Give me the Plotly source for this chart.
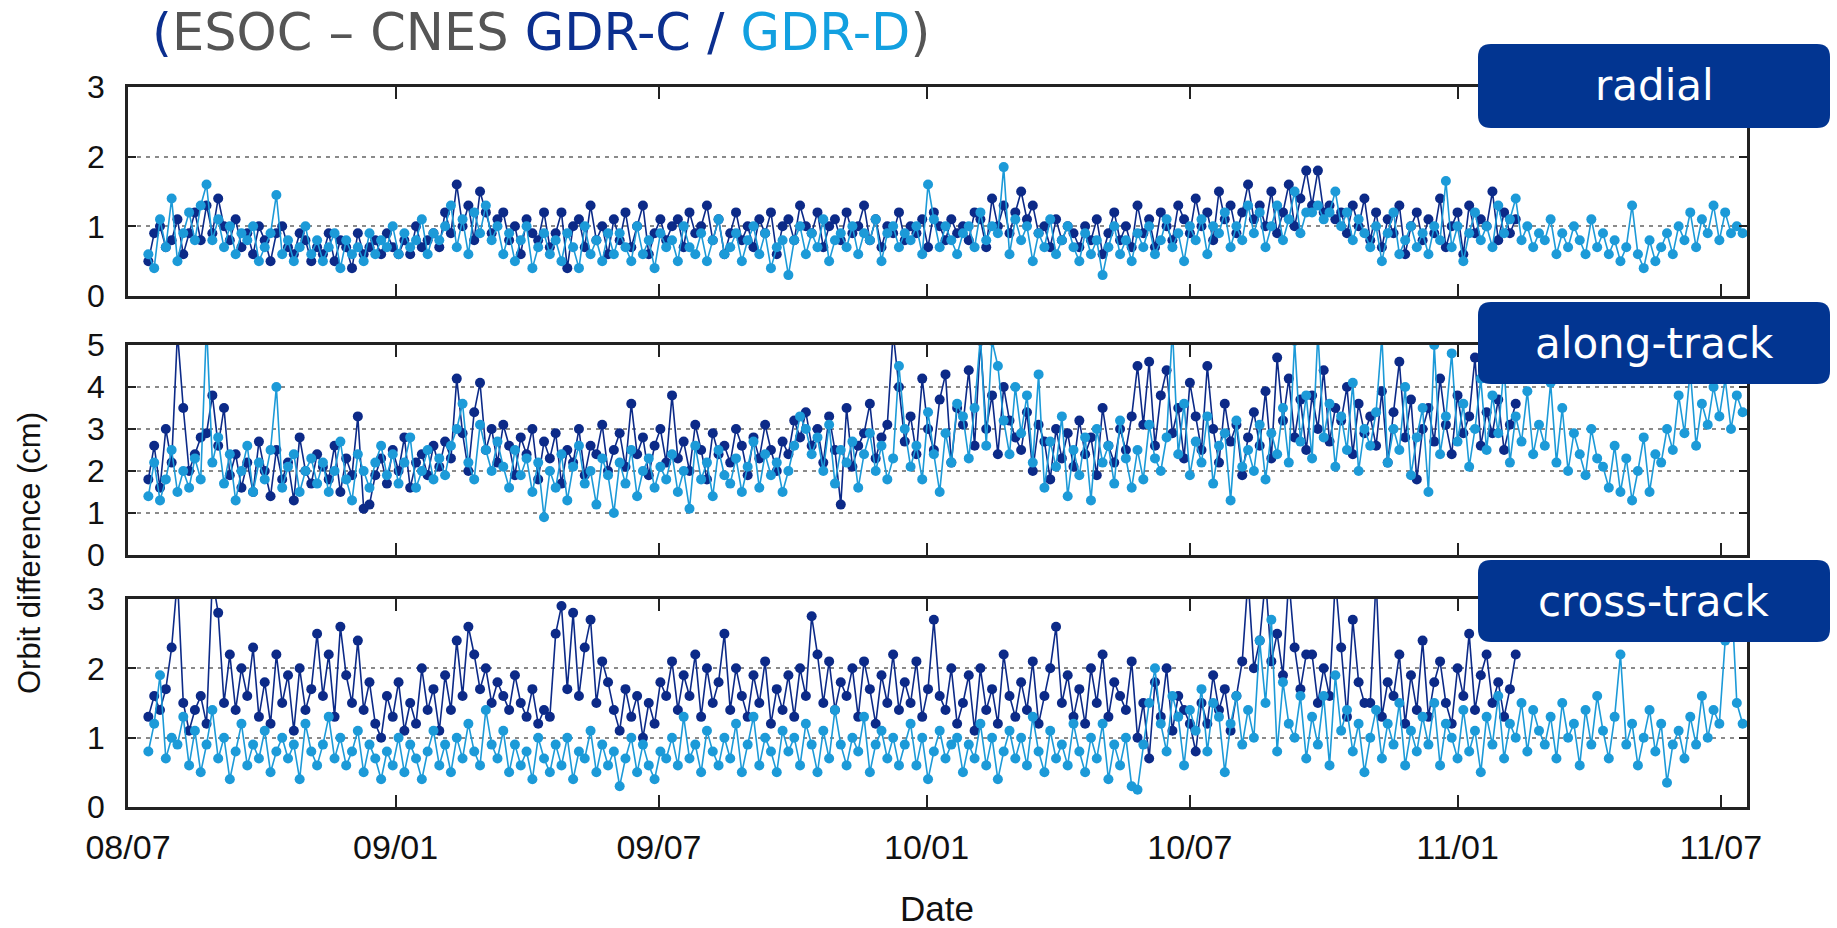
import numpy as np
import pandas as pd
import plotly.graph_objects as go

# ---------------- data (cm), one value every 4 days starting 2008-07-15 ----------------
start_date = "2008-07-15"
step_days = 4

radial_c = [
    0.5,0.9,1.0,0.7,0.8,1.1,0.6,0.9,1.2,0.8,
    1.3,0.9,1.4,1.0,0.8,1.1,0.7,0.9,0.6,1.0,
    0.8,0.5,0.9,1.0,0.7,0.6,0.9,0.8,0.5,0.7,
    0.6,0.9,0.5,0.8,0.7,0.4,0.9,0.6,0.7,0.8,
    0.6,0.9,0.7,0.6,0.8,0.6,1.0,0.7,0.8,0.9,
    0.7,1.2,0.9,1.6,1.0,1.3,0.8,1.5,1.2,0.9,
    1.1,1.2,0.8,1.0,0.6,1.1,0.9,0.8,1.2,0.7,
    0.9,1.2,0.4,1.0,1.1,0.7,1.3,0.8,1.0,0.6,
    1.1,0.8,1.2,0.7,1.0,1.3,0.6,0.9,1.1,0.8,
    1.0,1.1,0.7,1.2,0.9,1.0,1.3,0.8,1.1,0.6,
    0.9,1.2,0.8,1.0,0.7,1.1,0.9,1.2,0.6,1.0,
    1.1,0.8,1.3,1.0,0.9,1.2,0.7,1.0,1.1,0.8,
    1.2,0.9,1.0,1.3,0.8,1.1,0.7,1.0,0.9,1.2,
    0.8,1.0,0.9,1.1,0.7,1.2,1.0,0.8,1.1,0.9,
    1.0,0.8,1.2,1.1,0.7,1.4,1.0,1.3,0.9,1.2,
    1.5,1.1,1.3,0.9,1.0,0.7,1.1,0.8,1.0,0.9,
    0.7,1.0,0.8,1.1,0.6,0.9,1.2,0.8,1.0,0.7,
    1.3,0.9,1.1,0.7,1.2,1.0,0.8,1.3,1.1,0.9,
    1.4,1.0,1.2,0.8,1.5,1.1,1.3,0.9,1.2,1.6,
    1.1,1.3,1.0,1.5,0.9,1.2,1.6,1.0,1.4,1.8,
    1.3,1.8,1.2,1.3,1.1,1.2,0.9,1.3,1.0,1.4,
    0.8,1.2,0.7,1.1,0.9,1.3,0.6,1.0,1.2,0.8,
    1.1,0.9,1.4,0.7,1.0,1.2,0.6,1.3,0.9,1.1,
    1.0,1.5,0.8,1.2,0.9,1.1,
]

radial_d = [
    0.6,0.4,1.1,0.7,1.4,0.5,0.9,1.2,0.8,1.3,
    1.6,0.8,1.1,0.7,1.0,0.6,0.9,0.8,1.0,0.5,
    0.7,0.9,1.45,0.6,0.8,0.5,0.7,1.0,0.6,0.8,
    0.5,0.7,0.9,0.4,0.8,0.6,0.7,0.5,0.9,0.6,
    0.8,0.7,1.0,0.6,0.9,0.7,0.8,1.1,0.6,0.9,
    0.8,1.0,1.3,0.7,1.1,0.6,1.2,0.9,1.3,0.8,
    1.0,0.6,0.9,0.5,0.8,1.0,0.4,0.7,0.9,0.6,
    0.8,0.5,0.9,0.7,0.4,1.0,0.6,0.8,0.5,0.9,
    0.6,0.9,0.7,0.5,1.0,0.6,0.8,0.4,0.9,0.7,
    0.8,0.5,1.0,0.7,0.6,0.9,0.5,0.8,1.1,0.6,
    0.7,0.9,0.5,0.8,1.0,0.6,0.9,0.4,0.7,0.8,
    0.3,0.8,1.0,0.6,0.9,0.7,1.1,0.5,0.8,0.9,
    0.7,1.0,0.6,0.9,0.8,1.1,0.5,0.9,1.0,0.7,
    0.9,0.8,1.0,0.6,1.6,1.1,0.7,1.0,0.8,0.6,
    0.9,1.0,0.7,1.2,0.8,1.0,0.9,1.85,0.6,1.1,
    0.8,1.0,0.5,0.9,0.7,1.1,0.6,0.8,1.0,0.7,
    0.5,0.9,0.6,0.8,0.3,0.7,1.0,0.6,0.8,0.5,
    0.9,0.7,1.0,0.6,0.8,1.1,0.7,0.9,0.5,1.0,
    0.8,1.1,0.6,1.0,0.9,1.2,0.7,1.0,0.8,1.3,
    0.9,1.2,0.7,1.0,1.3,0.8,1.1,1.5,0.9,1.2,
    1.2,1.3,1.1,1.2,1.5,1.0,1.2,0.8,1.1,0.9,
    0.7,1.0,0.5,0.9,1.2,0.6,0.8,1.0,0.7,0.9,
    0.6,1.0,0.8,1.65,0.7,1.0,0.5,0.9,1.2,0.8,
    1.0,0.7,1.3,0.9,1.1,1.4,0.8,1.0,0.7,0.9,
    0.8,1.1,0.6,0.9,0.7,1.0,0.8,0.6,1.1,0.7,
    0.9,0.6,0.8,0.5,0.7,1.3,0.6,0.4,0.8,0.5,
    0.7,0.9,0.6,1.0,0.8,1.2,0.7,1.1,0.9,1.3,
    0.8,1.2,0.9,1.0,0.9,
]

along_c = [
    1.8,2.6,1.6,3.0,2.2,5.3,3.5,2.0,2.4,2.8,
    2.9,3.8,2.6,3.5,1.9,2.4,1.6,2.2,1.5,2.7,
    2.0,1.4,2.5,1.8,2.2,1.3,2.8,2.0,1.7,2.4,
    2.1,1.8,2.6,1.5,2.3,1.9,3.3,1.1,1.2,1.9,
    2.3,1.7,2.5,2.0,2.8,1.6,2.2,2.4,1.9,2.6,
    2.1,2.7,2.3,4.2,2.9,2.0,3.4,4.1,2.5,3.0,
    2.2,3.1,2.6,1.9,2.8,2.4,3.0,1.8,2.7,2.3,
    2.9,1.7,2.5,2.2,3.0,1.9,2.6,2.4,3.1,2.0,
    2.5,2.9,2.1,3.6,2.4,2.8,1.9,2.6,3.0,2.2,
    3.8,2.3,2.7,2.0,3.1,2.5,1.8,2.9,2.4,2.6,
    2.2,3.0,2.6,1.9,2.8,2.3,3.1,2.5,2.0,2.7,
    2.4,3.2,2.8,3.4,2.6,3.0,2.2,3.3,2.5,1.2,
    3.5,2.1,2.6,2.9,3.6,2.3,2.8,3.1,5.3,4.0,
    2.7,3.3,2.4,4.2,3.0,2.5,3.7,4.3,2.2,3.5,
    3.1,4.4,2.6,5.1,3.0,3.8,2.4,4.0,3.2,2.8,
    2.5,3.4,2.0,3.1,2.7,1.8,3.0,2.3,2.9,2.1,
    3.2,2.4,2.8,1.9,3.5,2.6,2.2,3.0,2.5,3.3,
    4.5,3.1,4.6,2.6,3.8,4.4,2.9,3.5,2.3,4.1,
    3.3,2.5,4.5,3.0,2.2,3.6,2.7,3.1,1.9,2.8,
    3.4,2.6,3.9,2.3,4.7,3.2,4.2,2.8,3.7,2.5,
    3.8,3.0,4.4,2.7,3.5,3.2,4.0,2.4,3.6,2.9,
    3.3,2.6,3.9,2.2,3.4,4.6,2.8,3.7,1.8,3.0,
    3.5,2.7,4.2,3.1,2.4,3.8,2.9,3.3,4.7,2.6,
    3.4,2.9,3.7,2.5,3.1,3.6,
]

along_d = [
    1.4,2.2,1.3,1.8,2.5,1.5,2.0,1.6,2.3,1.8,
    5.5,2.2,2.8,1.7,2.4,1.3,2.0,2.6,1.5,2.2,
    1.8,2.5,4.0,1.6,2.1,2.4,1.5,2.0,2.3,1.7,
    2.2,1.5,2.0,2.7,1.8,1.3,2.4,2.0,1.6,2.2,
    2.6,1.9,2.4,1.7,2.2,2.8,1.6,2.0,2.5,1.8,
    2.3,1.9,2.6,3.0,3.6,2.2,1.8,3.1,2.5,2.0,
    2.7,2.1,1.6,2.5,1.9,2.3,1.5,2.2,0.9,2.0,
    1.6,2.4,1.3,2.1,2.6,1.7,2.0,1.2,2.3,1.9,
    1.0,2.2,1.7,2.5,1.4,2.0,2.3,1.6,2.1,1.8,
    2.4,1.5,2.0,1.1,2.6,1.8,2.2,1.4,2.5,1.9,
    1.7,2.3,1.5,2.1,2.7,1.6,2.4,1.9,2.2,1.5,
    2.0,2.6,3.3,3.0,2.4,2.8,2.0,3.1,1.7,2.5,
    2.2,2.7,1.6,2.4,2.9,2.0,2.6,1.8,2.3,4.5,
    3.0,2.1,2.6,1.8,3.4,2.4,1.5,2.9,2.2,3.6,
    3.3,2.3,3.5,5.2,2.6,5.1,4.5,3.2,2.4,4.0,
    2.9,3.8,2.2,4.3,1.6,2.7,2.1,3.3,1.4,2.5,
    1.9,2.8,1.3,3.0,2.2,2.6,1.7,3.2,2.3,1.6,
    2.5,1.8,3.1,2.3,2.0,2.8,5.4,2.4,3.6,1.9,
    2.7,2.2,3.3,1.7,2.6,2.9,1.3,3.2,2.1,2.5,
    2.0,3.1,1.8,2.9,2.4,3.5,2.2,5.1,2.7,3.8,
    2.3,5.3,2.8,3.6,2.1,3.3,2.5,4.1,2.0,3.0,
    2.6,3.4,5.2,2.2,3.0,2.5,4.0,1.9,2.8,3.5,
    1.5,5.0,2.4,3.3,4.8,2.7,3.6,2.1,3.0,4.2,
    2.5,3.8,2.9,4.5,2.2,3.3,2.7,3.9,2.4,3.1,
    2.6,4.1,2.2,3.5,2.0,2.9,2.4,1.9,3.0,2.3,
    2.1,1.6,2.6,1.5,2.3,1.3,2.0,2.8,1.5,2.4,
    2.2,3.0,2.5,3.8,2.9,4.4,2.6,3.6,3.1,4.0,
    3.3,4.2,3.0,3.8,3.4,
]

cross_c = [
    1.3,1.6,1.4,1.7,2.3,3.3,1.5,1.1,1.4,1.6,
    1.2,3.3,2.8,1.5,2.2,1.4,2.0,1.6,2.3,1.3,
    1.8,1.2,2.2,1.5,1.9,1.1,2.0,1.4,1.7,2.5,
    1.6,2.2,1.3,2.6,1.9,1.5,2.4,1.4,1.8,1.2,
    1.0,1.6,1.3,1.8,1.1,1.5,1.2,2.0,1.4,1.7,
    1.1,1.9,1.4,2.4,1.6,2.6,2.2,1.7,2.0,1.5,
    1.8,1.6,1.4,1.9,1.5,1.3,1.7,1.2,1.4,1.3,
    2.5,2.9,1.7,2.8,1.6,2.3,2.7,1.5,2.1,1.8,
    1.4,1.1,1.7,1.3,1.6,1.0,1.5,1.2,1.8,1.6,
    2.1,1.4,1.9,1.6,2.2,1.3,2.0,1.5,1.8,2.5,
    1.4,2.0,1.6,1.3,1.9,1.5,2.1,1.2,1.7,1.4,
    1.9,1.3,2.0,1.6,2.75,2.2,1.5,2.1,1.4,1.8,
    1.6,2.0,1.3,2.1,1.7,1.2,1.9,1.5,2.2,1.4,
    1.8,1.5,2.1,1.3,1.7,2.7,1.6,1.4,2.0,1.2,
    1.5,1.9,1.1,2.0,1.4,1.7,1.2,2.2,1.6,1.3,
    1.8,1.4,2.1,1.2,1.6,2.0,2.6,1.5,1.9,1.3,
    1.7,1.2,2.0,1.5,2.2,1.3,1.8,1.6,1.4,2.1,
    1.0,1.5,0.7,1.8,1.3,2.0,1.1,1.6,1.4,1.2,
    0.8,1.5,1.2,1.9,1.4,1.7,1.1,1.6,2.1,3.3,
    2.0,2.4,3.3,2.1,2.5,1.9,3.3,2.3,1.7,2.2,
    2.2,1.5,2.0,1.6,3.3,2.3,1.3,2.7,1.8,1.5,
    1.5,3.3,1.3,1.8,1.6,2.2,1.2,1.9,1.4,2.4,
    1.3,1.8,2.1,1.5,1.2,2.0,1.6,2.5,1.4,1.9,
    2.2,1.5,1.8,1.3,1.7,2.2,
]

cross_d = [
    0.8,1.2,1.9,0.7,1.0,0.9,1.3,0.6,1.1,0.5,
    0.9,1.4,0.7,1.0,0.4,0.8,1.2,0.6,0.9,0.7,
    1.1,0.5,0.8,1.0,0.7,0.9,0.4,1.2,0.8,0.6,
    0.9,1.3,0.7,1.0,0.6,0.8,1.1,0.5,0.9,0.7,
    0.4,0.8,0.6,1.0,0.5,0.9,0.7,0.4,0.8,1.1,
    0.6,0.9,0.5,1.0,0.7,1.2,0.8,0.6,1.4,0.9,
    0.7,1.1,0.5,0.9,0.6,0.8,0.4,1.0,0.7,0.5,
    0.9,0.6,1.0,0.4,0.8,0.7,1.1,0.5,0.9,0.6,
    0.8,0.3,0.7,1.0,0.5,0.9,0.6,0.4,0.8,0.7,
    1.0,0.6,1.3,0.7,0.9,0.5,1.1,0.8,0.6,1.0,
    0.7,1.2,0.5,0.9,1.3,0.6,1.0,0.8,0.5,1.1,
    0.8,1.0,0.6,1.2,0.9,0.5,1.1,0.7,1.4,0.9,
    0.6,1.0,0.8,1.3,0.5,0.9,1.1,0.7,1.0,0.6,
    0.9,1.2,0.6,1.0,0.4,0.8,1.1,0.7,0.9,1.0,
    0.5,0.9,0.7,1.2,0.6,1.0,0.4,0.8,1.1,0.7,
    1.0,0.6,1.3,0.8,0.5,1.1,0.7,0.9,0.6,1.2,
    0.8,0.5,1.0,0.7,1.2,0.4,0.9,0.6,1.0,0.3,
    0.25,0.9,1.5,2.0,1.2,0.8,1.6,1.3,0.6,1.4,
    1.1,1.7,0.8,1.5,1.3,0.5,1.2,1.6,0.9,1.4,
    1.0,2.4,1.5,2.7,0.8,1.8,1.2,1.0,1.6,0.7,
    1.3,0.9,1.6,0.6,1.9,1.1,1.4,0.8,1.2,0.5,
    1.0,1.4,0.7,1.2,0.9,1.5,0.6,1.1,0.8,1.3,
    0.9,1.5,0.6,1.2,1.0,0.7,1.4,0.8,1.1,0.5,
    1.3,0.9,1.6,0.7,1.2,1.0,1.5,0.8,1.4,1.1,
    0.9,1.3,0.7,1.5,1.0,1.2,0.6,1.4,0.9,1.6,
    1.1,0.7,1.3,2.2,0.9,1.2,0.6,1.0,1.4,0.8,
    1.2,0.35,0.9,1.1,0.7,1.3,0.9,1.6,1.0,1.4,
    1.2,2.4,3.2,1.5,1.2,
]

panel_names = ["radial", "along-track", "cross-track"]
panel_ranges = [[0, 3], [0, 5], [0, 3]]
tick_dates = ["2008-07-01", "2009-01-01", "2009-07-01", "2010-01-01",
              "2010-07-01", "2011-01-01", "2011-07-01"]
tick_text = ["08/07", "09/01", "09/07", "10/01", "10/07", "11/01", "11/07"]
x_range = ["2008-07-01", "2011-07-19"]

# ---------------- styling ----------------
W, H = 1837, 928
C_DARK = "#0c2a88"
C_LIGHT = "#1c9ad8"
BOX = "#023591"
SANS = "Liberation Sans, Arial, sans-serif"
XTICK_FONT = dict(family=SANS, size=34, color="#111")
YTICK_FONT = dict(family=SANS, size=32, color="#111")
LABEL_FONT = "DejaVu Sans, Verdana, sans-serif"

def dates_for(n):
    return pd.Timestamp(start_date) + pd.to_timedelta(np.arange(n) * step_days, unit="D")

# panel pixel boxes (top, bottom) in page pixels
panel_px = [(87, 296), (345, 555), (599, 807)]
x_left_px, x_right_px = 128, 1747

def py(v):
    return 1 - v / H

def px(v):
    return v / W

fig = go.Figure()
series = [(radial_c, radial_d), (along_c, along_d), (cross_c, cross_d)]
for i, (c_vals, d_vals) in enumerate(series):
    sx = "x" if i == 0 else f"x{i+1}"
    sy = "y" if i == 0 else f"y{i+1}"
    for vals, col in ((c_vals, C_DARK), (d_vals, C_LIGHT)):
        fig.add_trace(go.Scatter(
            x=dates_for(len(vals)), y=vals, xaxis=sx, yaxis=sy,
            mode="lines+markers",
            line=dict(color=col, width=1.6),
            marker=dict(color=col, size=10, line=dict(width=0)),
            showlegend=False, hoverinfo="skip",
        ))

layout = dict(
    template="none",
    width=W, height=H,
    margin=dict(l=0, r=0, t=0, b=0, pad=0, autoexpand=False),
    paper_bgcolor="white", plot_bgcolor="white",
    showlegend=False,
)
for i in range(3):
    top, bot = panel_px[i]
    xa = "xaxis" if i == 0 else f"xaxis{i+1}"
    ya = "yaxis" if i == 0 else f"yaxis{i+1}"
    xa_id = "x" if i == 0 else f"x{i+1}"
    ya_id = "y" if i == 0 else f"y{i+1}"
    layout[xa] = dict(
        domain=[px(x_left_px), px(x_right_px)], anchor=ya_id,
        type="date", range=x_range, automargin=False,
        tickmode="array", tickvals=tick_dates, ticktext=tick_text,
        showticklabels=(i == 2), tickfont=XTICK_FONT,
        ticks="inside", ticklen=12, tickwidth=1.5, tickcolor="#222",
        showline=True, linecolor="#222", linewidth=2.5, mirror="ticks",
        showgrid=False, zeroline=False, ticklabelstandoff=8,
    )
    rng = panel_ranges[i]
    layout[ya] = dict(
        domain=[py(bot), py(top)], anchor=xa_id, automargin=False,
        range=rng, tickmode="array", tickvals=list(range(rng[0], rng[1] + 1)),
        tickfont=YTICK_FONT,
        ticks="inside", ticklen=8, tickwidth=1.5, tickcolor="#222",
        showline=True, linecolor="#222", linewidth=2.5, mirror="ticks",
        showgrid=True, gridcolor="#8a8a8a", gridwidth=1.5, griddash="4px,5px",
        zeroline=False, ticklabelstandoff=14,
    )
fig.update_layout(**layout)

# ---------------- rounded label boxes ----------------
def rounded_path(x0, y0, x1, y1, r):
    pts = [
        f"M {px(x0 + r)} {py(y0)}",
        f"L {px(x1 - r)} {py(y0)}",
        f"Q {px(x1)} {py(y0)} {px(x1)} {py(y0 + r)}",
        f"L {px(x1)} {py(y1 - r)}",
        f"Q {px(x1)} {py(y1)} {px(x1 - r)} {py(y1)}",
        f"L {px(x0 + r)} {py(y1)}",
        f"Q {px(x0)} {py(y1)} {px(x0)} {py(y1 - r)}",
        f"L {px(x0)} {py(y0 + r)}",
        f"Q {px(x0)} {py(y0)} {px(x0 + r)} {py(y0)}",
        "Z",
    ]
    return " ".join(pts)

box_px = [(44, 128), (302, 384), (560, 642)]
for name, (b0, b1) in zip(panel_names, box_px):
    fig.add_shape(type="path", xref="paper", yref="paper",
                  path=rounded_path(1478, b0, 1830, b1, 13),
                  fillcolor=BOX, line=dict(width=0), layer="above")
    fig.add_annotation(xref="paper", yref="paper", x=px(1654), y=py((b0 + b1) / 2),
                       text=name, showarrow=False, xanchor="center", yanchor="middle",
                       font=dict(family=LABEL_FONT, size=42, color="white"))

# ---------------- title and axis labels ----------------
title_html = ('<span style="color:#0b2f8f">(</span>'
              '<span style="color:#555555">ESOC – CNES </span>'
              '<span style="color:#0b2f8f">GDR-C / </span>'
              '<span style="color:#12a0e0">GDR-D</span>'
              '<span style="color:#555555">)</span>')
fig.add_annotation(xref="paper", yref="paper", x=px(150), y=py(33),
                   text=title_html, showarrow=False, xanchor="left", yanchor="middle",
                   font=dict(family=LABEL_FONT, size=51, color="#555555"))
fig.add_annotation(xref="paper", yref="paper", x=px(29), y=py(553),
                   text="Orbit difference (cm)", showarrow=False, textangle=-90,
                   xanchor="center", yanchor="middle",
                   font=dict(family=SANS, size=31, color="#111"))
fig.add_annotation(xref="paper", yref="paper", x=px(937), y=py(908),
                   text="Date", showarrow=False, xanchor="center", yanchor="middle",
                   font=dict(family=SANS, size=35, color="#111"))

fig.write_html("out.html")
